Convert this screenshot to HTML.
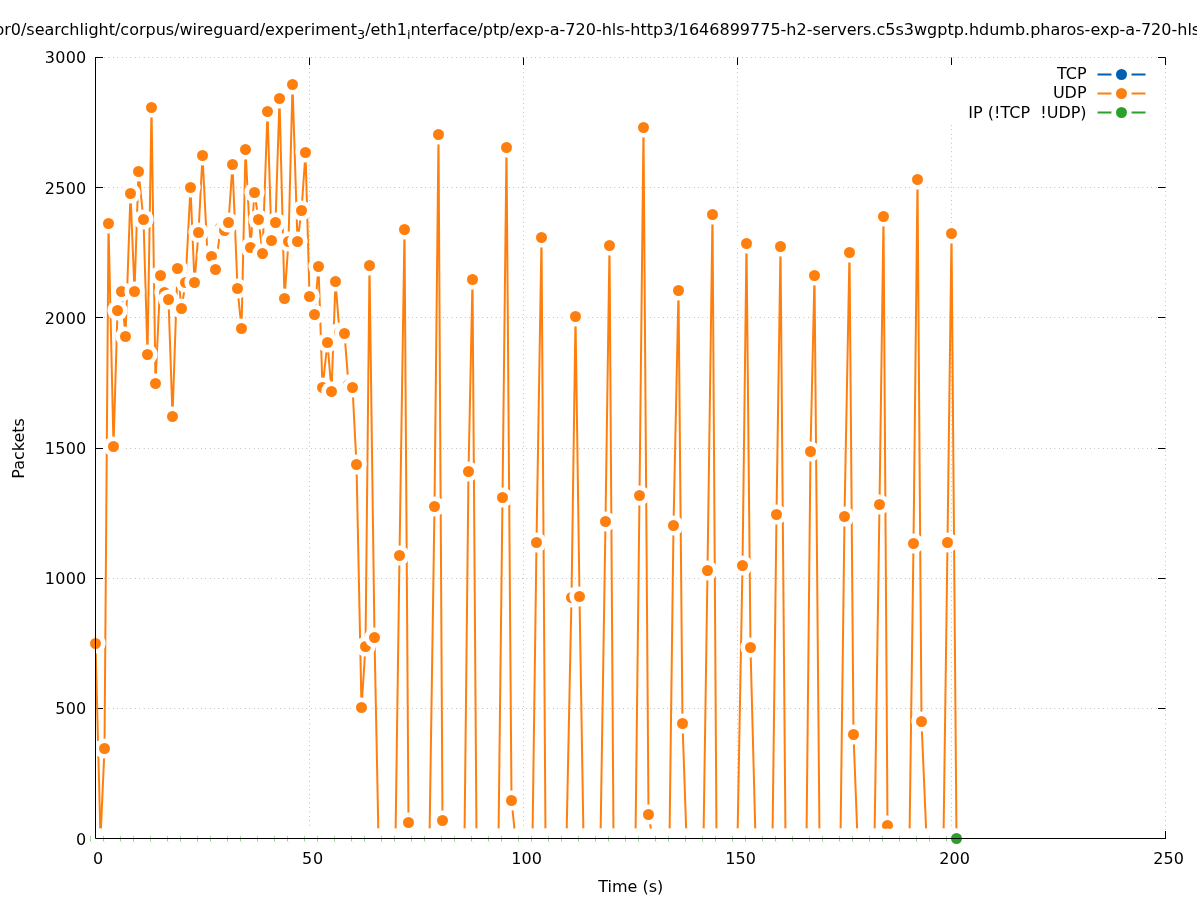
<!DOCTYPE html>
<html lang="en"><head><meta charset="utf-8"><title>Packets over time</title>
<style>html,body{margin:0;padding:0;background:#fff;overflow:hidden}svg{display:block}text{font-family:"DejaVu Sans","Liberation Sans",sans-serif;font-size:16px;fill:#000}</style></head><body>
<svg width="1197" height="900" viewBox="0 0 1197 900">
<rect width="1197" height="900" fill="#fff"/>
<g stroke="#000" stroke-width="0.6" stroke-dasharray="0.4 4" fill="none">
<path d="M95.5 838.5H1165.5"/>
<path d="M95.5 708.5H1165.5"/>
<path d="M95.5 578.5H1165.5"/>
<path d="M95.5 448.5H1165.5"/>
<path d="M95.5 317.5H1165.5"/>
<path d="M95.5 187.5H1165.5"/>
<path d="M95.5 57.5H1165.5"/>
<path d="M309.5 838.5V57.5"/>
<path d="M523.5 838.5V57.5"/>
<path d="M737.5 838.5V57.5"/>
<path d="M951.5 838.5V57.5"/>
<path d="M1165.5 838.5V57.5"/>
</g>
<rect x="945" y="60" width="210" height="64.3" fill="#fff"/>
<g stroke="#000" stroke-width="1" fill="none" id="tics">
<path d="M95.5 838.5h7.5M1165.5 838.5h-7.5"/>
<path d="M95.5 708.5h7.5M1165.5 708.5h-7.5"/>
<path d="M95.5 578.5h7.5M1165.5 578.5h-7.5"/>
<path d="M95.5 448.5h7.5M1165.5 448.5h-7.5"/>
<path d="M95.5 317.5h7.5M1165.5 317.5h-7.5"/>
<path d="M95.5 187.5h7.5M1165.5 187.5h-7.5"/>
<path d="M95.5 57.5h7.5M1165.5 57.5h-7.5"/>
<path d="M95.5 838.5v-7.5M95.5 57.5v7.5"/>
<path d="M309.5 838.5v-7.5M309.5 57.5v7.5"/>
<path d="M523.5 838.5v-7.5M523.5 57.5v7.5"/>
<path d="M737.5 838.5v-7.5M737.5 57.5v7.5"/>
<path d="M951.5 838.5v-7.5M951.5 57.5v7.5"/>
<path d="M1165.5 838.5v-7.5M1165.5 57.5v7.5"/>
</g>
<text x="-5.6" y="34.6" id="title">or0/searchlight/corpus/wireguard/experiment<tspan dy="4.8" font-size="12.8px">3</tspan><tspan dy="-4.8">/eth1</tspan><tspan dy="4.8" font-size="12.8px">i</tspan><tspan dy="-4.8">nterface/ptp/exp-a-720-hls-http3/1646899775-h2-servers.c5s3wgptp.hdumb.pharos-exp-a-720-hls</tspan></text>
<clipPath id="pc"><rect x="95.5" y="57" width="1070.5" height="782"/></clipPath>
<polyline clip-path="url(#pc)" points="95.5,643.5 100.5,838.5 104.5,748.5 108.5,223.5 113.5,446.5 117.5,310.5 121.5,291.5 125.5,336.5 130.5,193.5 134.5,291.5 138.5,171.5 143.5,219.5 147.5,354.5 151.5,107.5 155.5,383.5 160.5,275.5 164.5,292.5 168.5,299.5 172.5,416.5 177.5,268.5 181.5,308.5 185.5,282.5 190.5,187.5 194.5,282.5 198.5,232.5 202.5,155.5 207.5,255.5 211.5,256.5 215.5,269.5 220.5,227.5 224.5,230.5 228.5,222.5 232.5,164.5 237.5,288.5 241.5,328.5 245.5,149.5 250.5,247.5 254.5,192.5 258.5,219.5 262.5,253.5 267.5,111.5 271.5,240.5 275.5,222.5 279.5,98.5 284.5,298.5 288.5,241.5 292.5,84.5 297.5,241.5 301.5,210.5 305.5,152.5 309.5,296.5 314.5,314.5 318.5,266.5 322.5,387.5 327.5,342.5 331.5,391.5 335.5,281.5 339.5,332.5 344.5,333.5 348.5,384.5 352.5,387.5 356.5,464.5 361.5,707.5 365.5,646.5 369.5,265.5 374.5,637.5 378.5,838.5 382.5,838.5 386.5,838.5 391.5,838.5 395.5,838.5 399.5,555.5 404.5,229.5 408.5,822.5 412.5,838.5 416.5,838.5 421.5,838.5 425.5,838.5 429.5,838.5 434.5,506.5 438.5,134.5 442.5,820.5 446.5,838.5 451.5,838.5 455.5,838.5 459.5,838.5 464.5,838.5 468.5,471.5 472.5,279.5 476.5,838.5 481.5,838.5 485.5,838.5 489.5,838.5 493.5,838.5 498.5,838.5 502.5,497.5 506.5,147.5 511.5,800.5 515.5,838.5 519.5,838.5 523.5,838.5 528.5,838.5 532.5,838.5 536.5,542.5 541.5,237.5 545.5,838.5 549.5,838.5 553.5,838.5 558.5,838.5 562.5,838.5 566.5,838.5 571.5,597.5 575.5,316.5 579.5,596.5 583.5,838.5 588.5,838.5 592.5,838.5 596.5,838.5 600.5,838.5 605.5,521.5 609.5,245.5 613.5,838.5 618.5,838.5 622.5,838.5 626.5,838.5 630.5,838.5 635.5,838.5 639.5,495.5 643.5,127.5 648.5,814.5 652.5,838.5 656.5,838.5 660.5,838.5 665.5,838.5 669.5,838.5 673.5,525.5 678.5,290.5 682.5,723.5 686.5,838.5 690.5,838.5 695.5,838.5 699.5,838.5 703.5,838.5 707.5,570.5 712.5,214.5 716.5,838.5 720.5,838.5 725.5,838.5 729.5,838.5 733.5,838.5 737.5,838.5 742.5,565.5 746.5,243.5 750.5,647.5 755.5,838.5 759.5,838.5 763.5,838.5 767.5,838.5 772.5,838.5 776.5,514.5 780.5,246.5 785.5,838.5 789.5,838.5 793.5,838.5 797.5,838.5 802.5,838.5 806.5,838.5 810.5,451.5 814.5,275.5 819.5,838.5 823.5,838.5 827.5,838.5 832.5,838.5 836.5,838.5 840.5,838.5 844.5,516.5 849.5,252.5 853.5,734.5 857.5,838.5 862.5,838.5 866.5,838.5 870.5,838.5 874.5,838.5 879.5,504.5 883.5,216.5 887.5,825.5 892.5,838.5 896.5,838.5 900.5,838.5 904.5,838.5 909.5,838.5 913.5,543.5 917.5,179.5 921.5,721.5 926.5,838.5 930.5,838.5 934.5,838.5 939.5,838.5 943.5,838.5 947.5,542.5 951.5,233.5 956.5,838.5" fill="none" stroke="#ff7f0e" stroke-width="2.0" stroke-linejoin="round" stroke-linecap="butt"/>
<g id="udp">
<circle cx="95.50" cy="643.50" r="10.1" fill="#fff"/><circle cx="95.50" cy="643.50" r="5.5" fill="#ff7f0e"/>
<circle cx="100.50" cy="838.50" r="10.1" fill="#fff"/><circle cx="100.50" cy="838.50" r="5.5" fill="#ff7f0e"/>
<circle cx="104.50" cy="748.50" r="10.1" fill="#fff"/><circle cx="104.50" cy="748.50" r="5.5" fill="#ff7f0e"/>
<circle cx="108.50" cy="223.50" r="10.1" fill="#fff"/><circle cx="108.50" cy="223.50" r="5.5" fill="#ff7f0e"/>
<circle cx="113.50" cy="446.50" r="10.1" fill="#fff"/><circle cx="113.50" cy="446.50" r="5.5" fill="#ff7f0e"/>
<circle cx="117.50" cy="310.50" r="10.1" fill="#fff"/><circle cx="117.50" cy="310.50" r="5.5" fill="#ff7f0e"/>
<circle cx="121.50" cy="291.50" r="10.1" fill="#fff"/><circle cx="121.50" cy="291.50" r="5.5" fill="#ff7f0e"/>
<circle cx="125.50" cy="336.50" r="10.1" fill="#fff"/><circle cx="125.50" cy="336.50" r="5.5" fill="#ff7f0e"/>
<circle cx="130.50" cy="193.50" r="10.1" fill="#fff"/><circle cx="130.50" cy="193.50" r="5.5" fill="#ff7f0e"/>
<circle cx="134.50" cy="291.50" r="10.1" fill="#fff"/><circle cx="134.50" cy="291.50" r="5.5" fill="#ff7f0e"/>
<circle cx="138.50" cy="171.50" r="10.1" fill="#fff"/><circle cx="138.50" cy="171.50" r="5.5" fill="#ff7f0e"/>
<circle cx="143.50" cy="219.50" r="10.1" fill="#fff"/><circle cx="143.50" cy="219.50" r="5.5" fill="#ff7f0e"/>
<circle cx="147.50" cy="354.50" r="10.1" fill="#fff"/><circle cx="147.50" cy="354.50" r="5.5" fill="#ff7f0e"/>
<circle cx="151.50" cy="107.50" r="10.1" fill="#fff"/><circle cx="151.50" cy="107.50" r="5.5" fill="#ff7f0e"/>
<circle cx="155.50" cy="383.50" r="10.1" fill="#fff"/><circle cx="155.50" cy="383.50" r="5.5" fill="#ff7f0e"/>
<circle cx="160.50" cy="275.50" r="10.1" fill="#fff"/><circle cx="160.50" cy="275.50" r="5.5" fill="#ff7f0e"/>
<circle cx="164.50" cy="292.50" r="10.1" fill="#fff"/><circle cx="164.50" cy="292.50" r="5.5" fill="#ff7f0e"/>
<circle cx="168.50" cy="299.50" r="10.1" fill="#fff"/><circle cx="168.50" cy="299.50" r="5.5" fill="#ff7f0e"/>
<circle cx="172.50" cy="416.50" r="10.1" fill="#fff"/><circle cx="172.50" cy="416.50" r="5.5" fill="#ff7f0e"/>
<circle cx="177.50" cy="268.50" r="10.1" fill="#fff"/><circle cx="177.50" cy="268.50" r="5.5" fill="#ff7f0e"/>
<circle cx="181.50" cy="308.50" r="10.1" fill="#fff"/><circle cx="181.50" cy="308.50" r="5.5" fill="#ff7f0e"/>
<circle cx="185.50" cy="282.50" r="10.1" fill="#fff"/><circle cx="185.50" cy="282.50" r="5.5" fill="#ff7f0e"/>
<circle cx="190.50" cy="187.50" r="10.1" fill="#fff"/><circle cx="190.50" cy="187.50" r="5.5" fill="#ff7f0e"/>
<circle cx="194.50" cy="282.50" r="10.1" fill="#fff"/><circle cx="194.50" cy="282.50" r="5.5" fill="#ff7f0e"/>
<circle cx="198.50" cy="232.50" r="10.1" fill="#fff"/><circle cx="198.50" cy="232.50" r="5.5" fill="#ff7f0e"/>
<circle cx="202.50" cy="155.50" r="10.1" fill="#fff"/><circle cx="202.50" cy="155.50" r="5.5" fill="#ff7f0e"/>
<circle cx="207.50" cy="255.50" r="10.1" fill="#fff"/><circle cx="207.50" cy="255.50" r="5.5" fill="#ff7f0e"/>
<circle cx="211.50" cy="256.50" r="10.1" fill="#fff"/><circle cx="211.50" cy="256.50" r="5.5" fill="#ff7f0e"/>
<circle cx="215.50" cy="269.50" r="10.1" fill="#fff"/><circle cx="215.50" cy="269.50" r="5.5" fill="#ff7f0e"/>
<circle cx="220.50" cy="227.50" r="10.1" fill="#fff"/><circle cx="220.50" cy="227.50" r="5.5" fill="#ff7f0e"/>
<circle cx="224.50" cy="230.50" r="10.1" fill="#fff"/><circle cx="224.50" cy="230.50" r="5.5" fill="#ff7f0e"/>
<circle cx="228.50" cy="222.50" r="10.1" fill="#fff"/><circle cx="228.50" cy="222.50" r="5.5" fill="#ff7f0e"/>
<circle cx="232.50" cy="164.50" r="10.1" fill="#fff"/><circle cx="232.50" cy="164.50" r="5.5" fill="#ff7f0e"/>
<circle cx="237.50" cy="288.50" r="10.1" fill="#fff"/><circle cx="237.50" cy="288.50" r="5.5" fill="#ff7f0e"/>
<circle cx="241.50" cy="328.50" r="10.1" fill="#fff"/><circle cx="241.50" cy="328.50" r="5.5" fill="#ff7f0e"/>
<circle cx="245.50" cy="149.50" r="10.1" fill="#fff"/><circle cx="245.50" cy="149.50" r="5.5" fill="#ff7f0e"/>
<circle cx="250.50" cy="247.50" r="10.1" fill="#fff"/><circle cx="250.50" cy="247.50" r="5.5" fill="#ff7f0e"/>
<circle cx="254.50" cy="192.50" r="10.1" fill="#fff"/><circle cx="254.50" cy="192.50" r="5.5" fill="#ff7f0e"/>
<circle cx="258.50" cy="219.50" r="10.1" fill="#fff"/><circle cx="258.50" cy="219.50" r="5.5" fill="#ff7f0e"/>
<circle cx="262.50" cy="253.50" r="10.1" fill="#fff"/><circle cx="262.50" cy="253.50" r="5.5" fill="#ff7f0e"/>
<circle cx="267.50" cy="111.50" r="10.1" fill="#fff"/><circle cx="267.50" cy="111.50" r="5.5" fill="#ff7f0e"/>
<circle cx="271.50" cy="240.50" r="10.1" fill="#fff"/><circle cx="271.50" cy="240.50" r="5.5" fill="#ff7f0e"/>
<circle cx="275.50" cy="222.50" r="10.1" fill="#fff"/><circle cx="275.50" cy="222.50" r="5.5" fill="#ff7f0e"/>
<circle cx="279.50" cy="98.50" r="10.1" fill="#fff"/><circle cx="279.50" cy="98.50" r="5.5" fill="#ff7f0e"/>
<circle cx="284.50" cy="298.50" r="10.1" fill="#fff"/><circle cx="284.50" cy="298.50" r="5.5" fill="#ff7f0e"/>
<circle cx="288.50" cy="241.50" r="10.1" fill="#fff"/><circle cx="288.50" cy="241.50" r="5.5" fill="#ff7f0e"/>
<circle cx="292.50" cy="84.50" r="10.1" fill="#fff"/><circle cx="292.50" cy="84.50" r="5.5" fill="#ff7f0e"/>
<circle cx="297.50" cy="241.50" r="10.1" fill="#fff"/><circle cx="297.50" cy="241.50" r="5.5" fill="#ff7f0e"/>
<circle cx="301.50" cy="210.50" r="10.1" fill="#fff"/><circle cx="301.50" cy="210.50" r="5.5" fill="#ff7f0e"/>
<circle cx="305.50" cy="152.50" r="10.1" fill="#fff"/><circle cx="305.50" cy="152.50" r="5.5" fill="#ff7f0e"/>
<circle cx="309.50" cy="296.50" r="10.1" fill="#fff"/><circle cx="309.50" cy="296.50" r="5.5" fill="#ff7f0e"/>
<circle cx="314.50" cy="314.50" r="10.1" fill="#fff"/><circle cx="314.50" cy="314.50" r="5.5" fill="#ff7f0e"/>
<circle cx="318.50" cy="266.50" r="10.1" fill="#fff"/><circle cx="318.50" cy="266.50" r="5.5" fill="#ff7f0e"/>
<circle cx="322.50" cy="387.50" r="10.1" fill="#fff"/><circle cx="322.50" cy="387.50" r="5.5" fill="#ff7f0e"/>
<circle cx="327.50" cy="342.50" r="10.1" fill="#fff"/><circle cx="327.50" cy="342.50" r="5.5" fill="#ff7f0e"/>
<circle cx="331.50" cy="391.50" r="10.1" fill="#fff"/><circle cx="331.50" cy="391.50" r="5.5" fill="#ff7f0e"/>
<circle cx="335.50" cy="281.50" r="10.1" fill="#fff"/><circle cx="335.50" cy="281.50" r="5.5" fill="#ff7f0e"/>
<circle cx="339.50" cy="332.50" r="10.1" fill="#fff"/><circle cx="339.50" cy="332.50" r="5.5" fill="#ff7f0e"/>
<circle cx="344.50" cy="333.50" r="10.1" fill="#fff"/><circle cx="344.50" cy="333.50" r="5.5" fill="#ff7f0e"/>
<circle cx="348.50" cy="384.50" r="10.1" fill="#fff"/><circle cx="348.50" cy="384.50" r="5.5" fill="#ff7f0e"/>
<circle cx="352.50" cy="387.50" r="10.1" fill="#fff"/><circle cx="352.50" cy="387.50" r="5.5" fill="#ff7f0e"/>
<circle cx="356.50" cy="464.50" r="10.1" fill="#fff"/><circle cx="356.50" cy="464.50" r="5.5" fill="#ff7f0e"/>
<circle cx="361.50" cy="707.50" r="10.1" fill="#fff"/><circle cx="361.50" cy="707.50" r="5.5" fill="#ff7f0e"/>
<circle cx="365.50" cy="646.50" r="10.1" fill="#fff"/><circle cx="365.50" cy="646.50" r="5.5" fill="#ff7f0e"/>
<circle cx="369.50" cy="265.50" r="10.1" fill="#fff"/><circle cx="369.50" cy="265.50" r="5.5" fill="#ff7f0e"/>
<circle cx="374.50" cy="637.50" r="10.1" fill="#fff"/><circle cx="374.50" cy="637.50" r="5.5" fill="#ff7f0e"/>
<circle cx="378.50" cy="838.50" r="10.1" fill="#fff"/><circle cx="378.50" cy="838.50" r="5.5" fill="#ff7f0e"/>
<circle cx="382.50" cy="838.50" r="10.1" fill="#fff"/><circle cx="382.50" cy="838.50" r="5.5" fill="#ff7f0e"/>
<circle cx="386.50" cy="838.50" r="10.1" fill="#fff"/><circle cx="386.50" cy="838.50" r="5.5" fill="#ff7f0e"/>
<circle cx="391.50" cy="838.50" r="10.1" fill="#fff"/><circle cx="391.50" cy="838.50" r="5.5" fill="#ff7f0e"/>
<circle cx="395.50" cy="838.50" r="10.1" fill="#fff"/><circle cx="395.50" cy="838.50" r="5.5" fill="#ff7f0e"/>
<circle cx="399.50" cy="555.50" r="10.1" fill="#fff"/><circle cx="399.50" cy="555.50" r="5.5" fill="#ff7f0e"/>
<circle cx="404.50" cy="229.50" r="10.1" fill="#fff"/><circle cx="404.50" cy="229.50" r="5.5" fill="#ff7f0e"/>
<circle cx="408.50" cy="822.50" r="10.1" fill="#fff"/><circle cx="408.50" cy="822.50" r="5.5" fill="#ff7f0e"/>
<circle cx="412.50" cy="838.50" r="10.1" fill="#fff"/><circle cx="412.50" cy="838.50" r="5.5" fill="#ff7f0e"/>
<circle cx="416.50" cy="838.50" r="10.1" fill="#fff"/><circle cx="416.50" cy="838.50" r="5.5" fill="#ff7f0e"/>
<circle cx="421.50" cy="838.50" r="10.1" fill="#fff"/><circle cx="421.50" cy="838.50" r="5.5" fill="#ff7f0e"/>
<circle cx="425.50" cy="838.50" r="10.1" fill="#fff"/><circle cx="425.50" cy="838.50" r="5.5" fill="#ff7f0e"/>
<circle cx="429.50" cy="838.50" r="10.1" fill="#fff"/><circle cx="429.50" cy="838.50" r="5.5" fill="#ff7f0e"/>
<circle cx="434.50" cy="506.50" r="10.1" fill="#fff"/><circle cx="434.50" cy="506.50" r="5.5" fill="#ff7f0e"/>
<circle cx="438.50" cy="134.50" r="10.1" fill="#fff"/><circle cx="438.50" cy="134.50" r="5.5" fill="#ff7f0e"/>
<circle cx="442.50" cy="820.50" r="10.1" fill="#fff"/><circle cx="442.50" cy="820.50" r="5.5" fill="#ff7f0e"/>
<circle cx="446.50" cy="838.50" r="10.1" fill="#fff"/><circle cx="446.50" cy="838.50" r="5.5" fill="#ff7f0e"/>
<circle cx="451.50" cy="838.50" r="10.1" fill="#fff"/><circle cx="451.50" cy="838.50" r="5.5" fill="#ff7f0e"/>
<circle cx="455.50" cy="838.50" r="10.1" fill="#fff"/><circle cx="455.50" cy="838.50" r="5.5" fill="#ff7f0e"/>
<circle cx="459.50" cy="838.50" r="10.1" fill="#fff"/><circle cx="459.50" cy="838.50" r="5.5" fill="#ff7f0e"/>
<circle cx="464.50" cy="838.50" r="10.1" fill="#fff"/><circle cx="464.50" cy="838.50" r="5.5" fill="#ff7f0e"/>
<circle cx="468.50" cy="471.50" r="10.1" fill="#fff"/><circle cx="468.50" cy="471.50" r="5.5" fill="#ff7f0e"/>
<circle cx="472.50" cy="279.50" r="10.1" fill="#fff"/><circle cx="472.50" cy="279.50" r="5.5" fill="#ff7f0e"/>
<circle cx="476.50" cy="838.50" r="10.1" fill="#fff"/><circle cx="476.50" cy="838.50" r="5.5" fill="#ff7f0e"/>
<circle cx="481.50" cy="838.50" r="10.1" fill="#fff"/><circle cx="481.50" cy="838.50" r="5.5" fill="#ff7f0e"/>
<circle cx="485.50" cy="838.50" r="10.1" fill="#fff"/><circle cx="485.50" cy="838.50" r="5.5" fill="#ff7f0e"/>
<circle cx="489.50" cy="838.50" r="10.1" fill="#fff"/><circle cx="489.50" cy="838.50" r="5.5" fill="#ff7f0e"/>
<circle cx="493.50" cy="838.50" r="10.1" fill="#fff"/><circle cx="493.50" cy="838.50" r="5.5" fill="#ff7f0e"/>
<circle cx="498.50" cy="838.50" r="10.1" fill="#fff"/><circle cx="498.50" cy="838.50" r="5.5" fill="#ff7f0e"/>
<circle cx="502.50" cy="497.50" r="10.1" fill="#fff"/><circle cx="502.50" cy="497.50" r="5.5" fill="#ff7f0e"/>
<circle cx="506.50" cy="147.50" r="10.1" fill="#fff"/><circle cx="506.50" cy="147.50" r="5.5" fill="#ff7f0e"/>
<circle cx="511.50" cy="800.50" r="10.1" fill="#fff"/><circle cx="511.50" cy="800.50" r="5.5" fill="#ff7f0e"/>
<circle cx="515.50" cy="838.50" r="10.1" fill="#fff"/><circle cx="515.50" cy="838.50" r="5.5" fill="#ff7f0e"/>
<circle cx="519.50" cy="838.50" r="10.1" fill="#fff"/><circle cx="519.50" cy="838.50" r="5.5" fill="#ff7f0e"/>
<circle cx="523.50" cy="838.50" r="10.1" fill="#fff"/><circle cx="523.50" cy="838.50" r="5.5" fill="#ff7f0e"/>
<circle cx="528.50" cy="838.50" r="10.1" fill="#fff"/><circle cx="528.50" cy="838.50" r="5.5" fill="#ff7f0e"/>
<circle cx="532.50" cy="838.50" r="10.1" fill="#fff"/><circle cx="532.50" cy="838.50" r="5.5" fill="#ff7f0e"/>
<circle cx="536.50" cy="542.50" r="10.1" fill="#fff"/><circle cx="536.50" cy="542.50" r="5.5" fill="#ff7f0e"/>
<circle cx="541.50" cy="237.50" r="10.1" fill="#fff"/><circle cx="541.50" cy="237.50" r="5.5" fill="#ff7f0e"/>
<circle cx="545.50" cy="838.50" r="10.1" fill="#fff"/><circle cx="545.50" cy="838.50" r="5.5" fill="#ff7f0e"/>
<circle cx="549.50" cy="838.50" r="10.1" fill="#fff"/><circle cx="549.50" cy="838.50" r="5.5" fill="#ff7f0e"/>
<circle cx="553.50" cy="838.50" r="10.1" fill="#fff"/><circle cx="553.50" cy="838.50" r="5.5" fill="#ff7f0e"/>
<circle cx="558.50" cy="838.50" r="10.1" fill="#fff"/><circle cx="558.50" cy="838.50" r="5.5" fill="#ff7f0e"/>
<circle cx="562.50" cy="838.50" r="10.1" fill="#fff"/><circle cx="562.50" cy="838.50" r="5.5" fill="#ff7f0e"/>
<circle cx="566.50" cy="838.50" r="10.1" fill="#fff"/><circle cx="566.50" cy="838.50" r="5.5" fill="#ff7f0e"/>
<circle cx="571.50" cy="597.50" r="10.1" fill="#fff"/><circle cx="571.50" cy="597.50" r="5.5" fill="#ff7f0e"/>
<circle cx="575.50" cy="316.50" r="10.1" fill="#fff"/><circle cx="575.50" cy="316.50" r="5.5" fill="#ff7f0e"/>
<circle cx="579.50" cy="596.50" r="10.1" fill="#fff"/><circle cx="579.50" cy="596.50" r="5.5" fill="#ff7f0e"/>
<circle cx="583.50" cy="838.50" r="10.1" fill="#fff"/><circle cx="583.50" cy="838.50" r="5.5" fill="#ff7f0e"/>
<circle cx="588.50" cy="838.50" r="10.1" fill="#fff"/><circle cx="588.50" cy="838.50" r="5.5" fill="#ff7f0e"/>
<circle cx="592.50" cy="838.50" r="10.1" fill="#fff"/><circle cx="592.50" cy="838.50" r="5.5" fill="#ff7f0e"/>
<circle cx="596.50" cy="838.50" r="10.1" fill="#fff"/><circle cx="596.50" cy="838.50" r="5.5" fill="#ff7f0e"/>
<circle cx="600.50" cy="838.50" r="10.1" fill="#fff"/><circle cx="600.50" cy="838.50" r="5.5" fill="#ff7f0e"/>
<circle cx="605.50" cy="521.50" r="10.1" fill="#fff"/><circle cx="605.50" cy="521.50" r="5.5" fill="#ff7f0e"/>
<circle cx="609.50" cy="245.50" r="10.1" fill="#fff"/><circle cx="609.50" cy="245.50" r="5.5" fill="#ff7f0e"/>
<circle cx="613.50" cy="838.50" r="10.1" fill="#fff"/><circle cx="613.50" cy="838.50" r="5.5" fill="#ff7f0e"/>
<circle cx="618.50" cy="838.50" r="10.1" fill="#fff"/><circle cx="618.50" cy="838.50" r="5.5" fill="#ff7f0e"/>
<circle cx="622.50" cy="838.50" r="10.1" fill="#fff"/><circle cx="622.50" cy="838.50" r="5.5" fill="#ff7f0e"/>
<circle cx="626.50" cy="838.50" r="10.1" fill="#fff"/><circle cx="626.50" cy="838.50" r="5.5" fill="#ff7f0e"/>
<circle cx="630.50" cy="838.50" r="10.1" fill="#fff"/><circle cx="630.50" cy="838.50" r="5.5" fill="#ff7f0e"/>
<circle cx="635.50" cy="838.50" r="10.1" fill="#fff"/><circle cx="635.50" cy="838.50" r="5.5" fill="#ff7f0e"/>
<circle cx="639.50" cy="495.50" r="10.1" fill="#fff"/><circle cx="639.50" cy="495.50" r="5.5" fill="#ff7f0e"/>
<circle cx="643.50" cy="127.50" r="10.1" fill="#fff"/><circle cx="643.50" cy="127.50" r="5.5" fill="#ff7f0e"/>
<circle cx="648.50" cy="814.50" r="10.1" fill="#fff"/><circle cx="648.50" cy="814.50" r="5.5" fill="#ff7f0e"/>
<circle cx="652.50" cy="838.50" r="10.1" fill="#fff"/><circle cx="652.50" cy="838.50" r="5.5" fill="#ff7f0e"/>
<circle cx="656.50" cy="838.50" r="10.1" fill="#fff"/><circle cx="656.50" cy="838.50" r="5.5" fill="#ff7f0e"/>
<circle cx="660.50" cy="838.50" r="10.1" fill="#fff"/><circle cx="660.50" cy="838.50" r="5.5" fill="#ff7f0e"/>
<circle cx="665.50" cy="838.50" r="10.1" fill="#fff"/><circle cx="665.50" cy="838.50" r="5.5" fill="#ff7f0e"/>
<circle cx="669.50" cy="838.50" r="10.1" fill="#fff"/><circle cx="669.50" cy="838.50" r="5.5" fill="#ff7f0e"/>
<circle cx="673.50" cy="525.50" r="10.1" fill="#fff"/><circle cx="673.50" cy="525.50" r="5.5" fill="#ff7f0e"/>
<circle cx="678.50" cy="290.50" r="10.1" fill="#fff"/><circle cx="678.50" cy="290.50" r="5.5" fill="#ff7f0e"/>
<circle cx="682.50" cy="723.50" r="10.1" fill="#fff"/><circle cx="682.50" cy="723.50" r="5.5" fill="#ff7f0e"/>
<circle cx="686.50" cy="838.50" r="10.1" fill="#fff"/><circle cx="686.50" cy="838.50" r="5.5" fill="#ff7f0e"/>
<circle cx="690.50" cy="838.50" r="10.1" fill="#fff"/><circle cx="690.50" cy="838.50" r="5.5" fill="#ff7f0e"/>
<circle cx="695.50" cy="838.50" r="10.1" fill="#fff"/><circle cx="695.50" cy="838.50" r="5.5" fill="#ff7f0e"/>
<circle cx="699.50" cy="838.50" r="10.1" fill="#fff"/><circle cx="699.50" cy="838.50" r="5.5" fill="#ff7f0e"/>
<circle cx="703.50" cy="838.50" r="10.1" fill="#fff"/><circle cx="703.50" cy="838.50" r="5.5" fill="#ff7f0e"/>
<circle cx="707.50" cy="570.50" r="10.1" fill="#fff"/><circle cx="707.50" cy="570.50" r="5.5" fill="#ff7f0e"/>
<circle cx="712.50" cy="214.50" r="10.1" fill="#fff"/><circle cx="712.50" cy="214.50" r="5.5" fill="#ff7f0e"/>
<circle cx="716.50" cy="838.50" r="10.1" fill="#fff"/><circle cx="716.50" cy="838.50" r="5.5" fill="#ff7f0e"/>
<circle cx="720.50" cy="838.50" r="10.1" fill="#fff"/><circle cx="720.50" cy="838.50" r="5.5" fill="#ff7f0e"/>
<circle cx="725.50" cy="838.50" r="10.1" fill="#fff"/><circle cx="725.50" cy="838.50" r="5.5" fill="#ff7f0e"/>
<circle cx="729.50" cy="838.50" r="10.1" fill="#fff"/><circle cx="729.50" cy="838.50" r="5.5" fill="#ff7f0e"/>
<circle cx="733.50" cy="838.50" r="10.1" fill="#fff"/><circle cx="733.50" cy="838.50" r="5.5" fill="#ff7f0e"/>
<circle cx="737.50" cy="838.50" r="10.1" fill="#fff"/><circle cx="737.50" cy="838.50" r="5.5" fill="#ff7f0e"/>
<circle cx="742.50" cy="565.50" r="10.1" fill="#fff"/><circle cx="742.50" cy="565.50" r="5.5" fill="#ff7f0e"/>
<circle cx="746.50" cy="243.50" r="10.1" fill="#fff"/><circle cx="746.50" cy="243.50" r="5.5" fill="#ff7f0e"/>
<circle cx="750.50" cy="647.50" r="10.1" fill="#fff"/><circle cx="750.50" cy="647.50" r="5.5" fill="#ff7f0e"/>
<circle cx="755.50" cy="838.50" r="10.1" fill="#fff"/><circle cx="755.50" cy="838.50" r="5.5" fill="#ff7f0e"/>
<circle cx="759.50" cy="838.50" r="10.1" fill="#fff"/><circle cx="759.50" cy="838.50" r="5.5" fill="#ff7f0e"/>
<circle cx="763.50" cy="838.50" r="10.1" fill="#fff"/><circle cx="763.50" cy="838.50" r="5.5" fill="#ff7f0e"/>
<circle cx="767.50" cy="838.50" r="10.1" fill="#fff"/><circle cx="767.50" cy="838.50" r="5.5" fill="#ff7f0e"/>
<circle cx="772.50" cy="838.50" r="10.1" fill="#fff"/><circle cx="772.50" cy="838.50" r="5.5" fill="#ff7f0e"/>
<circle cx="776.50" cy="514.50" r="10.1" fill="#fff"/><circle cx="776.50" cy="514.50" r="5.5" fill="#ff7f0e"/>
<circle cx="780.50" cy="246.50" r="10.1" fill="#fff"/><circle cx="780.50" cy="246.50" r="5.5" fill="#ff7f0e"/>
<circle cx="785.50" cy="838.50" r="10.1" fill="#fff"/><circle cx="785.50" cy="838.50" r="5.5" fill="#ff7f0e"/>
<circle cx="789.50" cy="838.50" r="10.1" fill="#fff"/><circle cx="789.50" cy="838.50" r="5.5" fill="#ff7f0e"/>
<circle cx="793.50" cy="838.50" r="10.1" fill="#fff"/><circle cx="793.50" cy="838.50" r="5.5" fill="#ff7f0e"/>
<circle cx="797.50" cy="838.50" r="10.1" fill="#fff"/><circle cx="797.50" cy="838.50" r="5.5" fill="#ff7f0e"/>
<circle cx="802.50" cy="838.50" r="10.1" fill="#fff"/><circle cx="802.50" cy="838.50" r="5.5" fill="#ff7f0e"/>
<circle cx="806.50" cy="838.50" r="10.1" fill="#fff"/><circle cx="806.50" cy="838.50" r="5.5" fill="#ff7f0e"/>
<circle cx="810.50" cy="451.50" r="10.1" fill="#fff"/><circle cx="810.50" cy="451.50" r="5.5" fill="#ff7f0e"/>
<circle cx="814.50" cy="275.50" r="10.1" fill="#fff"/><circle cx="814.50" cy="275.50" r="5.5" fill="#ff7f0e"/>
<circle cx="819.50" cy="838.50" r="10.1" fill="#fff"/><circle cx="819.50" cy="838.50" r="5.5" fill="#ff7f0e"/>
<circle cx="823.50" cy="838.50" r="10.1" fill="#fff"/><circle cx="823.50" cy="838.50" r="5.5" fill="#ff7f0e"/>
<circle cx="827.50" cy="838.50" r="10.1" fill="#fff"/><circle cx="827.50" cy="838.50" r="5.5" fill="#ff7f0e"/>
<circle cx="832.50" cy="838.50" r="10.1" fill="#fff"/><circle cx="832.50" cy="838.50" r="5.5" fill="#ff7f0e"/>
<circle cx="836.50" cy="838.50" r="10.1" fill="#fff"/><circle cx="836.50" cy="838.50" r="5.5" fill="#ff7f0e"/>
<circle cx="840.50" cy="838.50" r="10.1" fill="#fff"/><circle cx="840.50" cy="838.50" r="5.5" fill="#ff7f0e"/>
<circle cx="844.50" cy="516.50" r="10.1" fill="#fff"/><circle cx="844.50" cy="516.50" r="5.5" fill="#ff7f0e"/>
<circle cx="849.50" cy="252.50" r="10.1" fill="#fff"/><circle cx="849.50" cy="252.50" r="5.5" fill="#ff7f0e"/>
<circle cx="853.50" cy="734.50" r="10.1" fill="#fff"/><circle cx="853.50" cy="734.50" r="5.5" fill="#ff7f0e"/>
<circle cx="857.50" cy="838.50" r="10.1" fill="#fff"/><circle cx="857.50" cy="838.50" r="5.5" fill="#ff7f0e"/>
<circle cx="862.50" cy="838.50" r="10.1" fill="#fff"/><circle cx="862.50" cy="838.50" r="5.5" fill="#ff7f0e"/>
<circle cx="866.50" cy="838.50" r="10.1" fill="#fff"/><circle cx="866.50" cy="838.50" r="5.5" fill="#ff7f0e"/>
<circle cx="870.50" cy="838.50" r="10.1" fill="#fff"/><circle cx="870.50" cy="838.50" r="5.5" fill="#ff7f0e"/>
<circle cx="874.50" cy="838.50" r="10.1" fill="#fff"/><circle cx="874.50" cy="838.50" r="5.5" fill="#ff7f0e"/>
<circle cx="879.50" cy="504.50" r="10.1" fill="#fff"/><circle cx="879.50" cy="504.50" r="5.5" fill="#ff7f0e"/>
<circle cx="883.50" cy="216.50" r="10.1" fill="#fff"/><circle cx="883.50" cy="216.50" r="5.5" fill="#ff7f0e"/>
<circle cx="887.50" cy="825.50" r="10.1" fill="#fff"/><circle cx="887.50" cy="825.50" r="5.5" fill="#ff7f0e"/>
<circle cx="892.50" cy="838.50" r="10.1" fill="#fff"/><circle cx="892.50" cy="838.50" r="5.5" fill="#ff7f0e"/>
<circle cx="896.50" cy="838.50" r="10.1" fill="#fff"/><circle cx="896.50" cy="838.50" r="5.5" fill="#ff7f0e"/>
<circle cx="900.50" cy="838.50" r="10.1" fill="#fff"/><circle cx="900.50" cy="838.50" r="5.5" fill="#ff7f0e"/>
<circle cx="904.50" cy="838.50" r="10.1" fill="#fff"/><circle cx="904.50" cy="838.50" r="5.5" fill="#ff7f0e"/>
<circle cx="909.50" cy="838.50" r="10.1" fill="#fff"/><circle cx="909.50" cy="838.50" r="5.5" fill="#ff7f0e"/>
<circle cx="913.50" cy="543.50" r="10.1" fill="#fff"/><circle cx="913.50" cy="543.50" r="5.5" fill="#ff7f0e"/>
<circle cx="917.50" cy="179.50" r="10.1" fill="#fff"/><circle cx="917.50" cy="179.50" r="5.5" fill="#ff7f0e"/>
<circle cx="921.50" cy="721.50" r="10.1" fill="#fff"/><circle cx="921.50" cy="721.50" r="5.5" fill="#ff7f0e"/>
<circle cx="926.50" cy="838.50" r="10.1" fill="#fff"/><circle cx="926.50" cy="838.50" r="5.5" fill="#ff7f0e"/>
<circle cx="930.50" cy="838.50" r="10.1" fill="#fff"/><circle cx="930.50" cy="838.50" r="5.5" fill="#ff7f0e"/>
<circle cx="934.50" cy="838.50" r="10.1" fill="#fff"/><circle cx="934.50" cy="838.50" r="5.5" fill="#ff7f0e"/>
<circle cx="939.50" cy="838.50" r="10.1" fill="#fff"/><circle cx="939.50" cy="838.50" r="5.5" fill="#ff7f0e"/>
<circle cx="943.50" cy="838.50" r="10.1" fill="#fff"/><circle cx="943.50" cy="838.50" r="5.5" fill="#ff7f0e"/>
<circle cx="947.50" cy="542.50" r="10.1" fill="#fff"/><circle cx="947.50" cy="542.50" r="5.5" fill="#ff7f0e"/>
<circle cx="951.50" cy="233.50" r="10.1" fill="#fff"/><circle cx="951.50" cy="233.50" r="5.5" fill="#ff7f0e"/>
<circle cx="956.50" cy="838.50" r="10.1" fill="#fff"/><circle cx="956.50" cy="838.50" r="5.5" fill="#ff7f0e"/>
</g>
<g id="ip">
<circle cx="95.50" cy="838.5" r="10.1" fill="#fff"/><circle cx="95.50" cy="838.5" r="5.5" fill="#2ca02c"/>
<circle cx="100.50" cy="838.5" r="10.1" fill="#fff"/><circle cx="100.50" cy="838.5" r="5.5" fill="#2ca02c"/>
<circle cx="104.50" cy="838.5" r="10.1" fill="#fff"/><circle cx="104.50" cy="838.5" r="5.5" fill="#2ca02c"/>
<circle cx="108.50" cy="838.5" r="10.1" fill="#fff"/><circle cx="108.50" cy="838.5" r="5.5" fill="#2ca02c"/>
<circle cx="113.50" cy="838.5" r="10.1" fill="#fff"/><circle cx="113.50" cy="838.5" r="5.5" fill="#2ca02c"/>
<circle cx="117.50" cy="838.5" r="10.1" fill="#fff"/><circle cx="117.50" cy="838.5" r="5.5" fill="#2ca02c"/>
<circle cx="121.50" cy="838.5" r="10.1" fill="#fff"/><circle cx="121.50" cy="838.5" r="5.5" fill="#2ca02c"/>
<circle cx="125.50" cy="838.5" r="10.1" fill="#fff"/><circle cx="125.50" cy="838.5" r="5.5" fill="#2ca02c"/>
<circle cx="130.50" cy="838.5" r="10.1" fill="#fff"/><circle cx="130.50" cy="838.5" r="5.5" fill="#2ca02c"/>
<circle cx="134.50" cy="838.5" r="10.1" fill="#fff"/><circle cx="134.50" cy="838.5" r="5.5" fill="#2ca02c"/>
<circle cx="138.50" cy="838.5" r="10.1" fill="#fff"/><circle cx="138.50" cy="838.5" r="5.5" fill="#2ca02c"/>
<circle cx="143.50" cy="838.5" r="10.1" fill="#fff"/><circle cx="143.50" cy="838.5" r="5.5" fill="#2ca02c"/>
<circle cx="147.50" cy="838.5" r="10.1" fill="#fff"/><circle cx="147.50" cy="838.5" r="5.5" fill="#2ca02c"/>
<circle cx="151.50" cy="838.5" r="10.1" fill="#fff"/><circle cx="151.50" cy="838.5" r="5.5" fill="#2ca02c"/>
<circle cx="155.50" cy="838.5" r="10.1" fill="#fff"/><circle cx="155.50" cy="838.5" r="5.5" fill="#2ca02c"/>
<circle cx="160.50" cy="838.5" r="10.1" fill="#fff"/><circle cx="160.50" cy="838.5" r="5.5" fill="#2ca02c"/>
<circle cx="164.50" cy="838.5" r="10.1" fill="#fff"/><circle cx="164.50" cy="838.5" r="5.5" fill="#2ca02c"/>
<circle cx="168.50" cy="838.5" r="10.1" fill="#fff"/><circle cx="168.50" cy="838.5" r="5.5" fill="#2ca02c"/>
<circle cx="172.50" cy="838.5" r="10.1" fill="#fff"/><circle cx="172.50" cy="838.5" r="5.5" fill="#2ca02c"/>
<circle cx="177.50" cy="838.5" r="10.1" fill="#fff"/><circle cx="177.50" cy="838.5" r="5.5" fill="#2ca02c"/>
<circle cx="181.50" cy="838.5" r="10.1" fill="#fff"/><circle cx="181.50" cy="838.5" r="5.5" fill="#2ca02c"/>
<circle cx="185.50" cy="838.5" r="10.1" fill="#fff"/><circle cx="185.50" cy="838.5" r="5.5" fill="#2ca02c"/>
<circle cx="190.50" cy="838.5" r="10.1" fill="#fff"/><circle cx="190.50" cy="838.5" r="5.5" fill="#2ca02c"/>
<circle cx="194.50" cy="838.5" r="10.1" fill="#fff"/><circle cx="194.50" cy="838.5" r="5.5" fill="#2ca02c"/>
<circle cx="198.50" cy="838.5" r="10.1" fill="#fff"/><circle cx="198.50" cy="838.5" r="5.5" fill="#2ca02c"/>
<circle cx="202.50" cy="838.5" r="10.1" fill="#fff"/><circle cx="202.50" cy="838.5" r="5.5" fill="#2ca02c"/>
<circle cx="207.50" cy="838.5" r="10.1" fill="#fff"/><circle cx="207.50" cy="838.5" r="5.5" fill="#2ca02c"/>
<circle cx="211.50" cy="838.5" r="10.1" fill="#fff"/><circle cx="211.50" cy="838.5" r="5.5" fill="#2ca02c"/>
<circle cx="215.50" cy="838.5" r="10.1" fill="#fff"/><circle cx="215.50" cy="838.5" r="5.5" fill="#2ca02c"/>
<circle cx="220.50" cy="838.5" r="10.1" fill="#fff"/><circle cx="220.50" cy="838.5" r="5.5" fill="#2ca02c"/>
<circle cx="224.50" cy="838.5" r="10.1" fill="#fff"/><circle cx="224.50" cy="838.5" r="5.5" fill="#2ca02c"/>
<circle cx="228.50" cy="838.5" r="10.1" fill="#fff"/><circle cx="228.50" cy="838.5" r="5.5" fill="#2ca02c"/>
<circle cx="232.50" cy="838.5" r="10.1" fill="#fff"/><circle cx="232.50" cy="838.5" r="5.5" fill="#2ca02c"/>
<circle cx="237.50" cy="838.5" r="10.1" fill="#fff"/><circle cx="237.50" cy="838.5" r="5.5" fill="#2ca02c"/>
<circle cx="241.50" cy="838.5" r="10.1" fill="#fff"/><circle cx="241.50" cy="838.5" r="5.5" fill="#2ca02c"/>
<circle cx="245.50" cy="838.5" r="10.1" fill="#fff"/><circle cx="245.50" cy="838.5" r="5.5" fill="#2ca02c"/>
<circle cx="250.50" cy="838.5" r="10.1" fill="#fff"/><circle cx="250.50" cy="838.5" r="5.5" fill="#2ca02c"/>
<circle cx="254.50" cy="838.5" r="10.1" fill="#fff"/><circle cx="254.50" cy="838.5" r="5.5" fill="#2ca02c"/>
<circle cx="258.50" cy="838.5" r="10.1" fill="#fff"/><circle cx="258.50" cy="838.5" r="5.5" fill="#2ca02c"/>
<circle cx="262.50" cy="838.5" r="10.1" fill="#fff"/><circle cx="262.50" cy="838.5" r="5.5" fill="#2ca02c"/>
<circle cx="267.50" cy="838.5" r="10.1" fill="#fff"/><circle cx="267.50" cy="838.5" r="5.5" fill="#2ca02c"/>
<circle cx="271.50" cy="838.5" r="10.1" fill="#fff"/><circle cx="271.50" cy="838.5" r="5.5" fill="#2ca02c"/>
<circle cx="275.50" cy="838.5" r="10.1" fill="#fff"/><circle cx="275.50" cy="838.5" r="5.5" fill="#2ca02c"/>
<circle cx="279.50" cy="838.5" r="10.1" fill="#fff"/><circle cx="279.50" cy="838.5" r="5.5" fill="#2ca02c"/>
<circle cx="284.50" cy="838.5" r="10.1" fill="#fff"/><circle cx="284.50" cy="838.5" r="5.5" fill="#2ca02c"/>
<circle cx="288.50" cy="838.5" r="10.1" fill="#fff"/><circle cx="288.50" cy="838.5" r="5.5" fill="#2ca02c"/>
<circle cx="292.50" cy="838.5" r="10.1" fill="#fff"/><circle cx="292.50" cy="838.5" r="5.5" fill="#2ca02c"/>
<circle cx="297.50" cy="838.5" r="10.1" fill="#fff"/><circle cx="297.50" cy="838.5" r="5.5" fill="#2ca02c"/>
<circle cx="301.50" cy="838.5" r="10.1" fill="#fff"/><circle cx="301.50" cy="838.5" r="5.5" fill="#2ca02c"/>
<circle cx="305.50" cy="838.5" r="10.1" fill="#fff"/><circle cx="305.50" cy="838.5" r="5.5" fill="#2ca02c"/>
<circle cx="309.50" cy="838.5" r="10.1" fill="#fff"/><circle cx="309.50" cy="838.5" r="5.5" fill="#2ca02c"/>
<circle cx="314.50" cy="838.5" r="10.1" fill="#fff"/><circle cx="314.50" cy="838.5" r="5.5" fill="#2ca02c"/>
<circle cx="318.50" cy="838.5" r="10.1" fill="#fff"/><circle cx="318.50" cy="838.5" r="5.5" fill="#2ca02c"/>
<circle cx="322.50" cy="838.5" r="10.1" fill="#fff"/><circle cx="322.50" cy="838.5" r="5.5" fill="#2ca02c"/>
<circle cx="327.50" cy="838.5" r="10.1" fill="#fff"/><circle cx="327.50" cy="838.5" r="5.5" fill="#2ca02c"/>
<circle cx="331.50" cy="838.5" r="10.1" fill="#fff"/><circle cx="331.50" cy="838.5" r="5.5" fill="#2ca02c"/>
<circle cx="335.50" cy="838.5" r="10.1" fill="#fff"/><circle cx="335.50" cy="838.5" r="5.5" fill="#2ca02c"/>
<circle cx="339.50" cy="838.5" r="10.1" fill="#fff"/><circle cx="339.50" cy="838.5" r="5.5" fill="#2ca02c"/>
<circle cx="344.50" cy="838.5" r="10.1" fill="#fff"/><circle cx="344.50" cy="838.5" r="5.5" fill="#2ca02c"/>
<circle cx="348.50" cy="838.5" r="10.1" fill="#fff"/><circle cx="348.50" cy="838.5" r="5.5" fill="#2ca02c"/>
<circle cx="352.50" cy="838.5" r="10.1" fill="#fff"/><circle cx="352.50" cy="838.5" r="5.5" fill="#2ca02c"/>
<circle cx="356.50" cy="838.5" r="10.1" fill="#fff"/><circle cx="356.50" cy="838.5" r="5.5" fill="#2ca02c"/>
<circle cx="361.50" cy="838.5" r="10.1" fill="#fff"/><circle cx="361.50" cy="838.5" r="5.5" fill="#2ca02c"/>
<circle cx="365.50" cy="838.5" r="10.1" fill="#fff"/><circle cx="365.50" cy="838.5" r="5.5" fill="#2ca02c"/>
<circle cx="369.50" cy="838.5" r="10.1" fill="#fff"/><circle cx="369.50" cy="838.5" r="5.5" fill="#2ca02c"/>
<circle cx="374.50" cy="838.5" r="10.1" fill="#fff"/><circle cx="374.50" cy="838.5" r="5.5" fill="#2ca02c"/>
<circle cx="378.50" cy="838.5" r="10.1" fill="#fff"/><circle cx="378.50" cy="838.5" r="5.5" fill="#2ca02c"/>
<circle cx="382.50" cy="838.5" r="10.1" fill="#fff"/><circle cx="382.50" cy="838.5" r="5.5" fill="#2ca02c"/>
<circle cx="386.50" cy="838.5" r="10.1" fill="#fff"/><circle cx="386.50" cy="838.5" r="5.5" fill="#2ca02c"/>
<circle cx="391.50" cy="838.5" r="10.1" fill="#fff"/><circle cx="391.50" cy="838.5" r="5.5" fill="#2ca02c"/>
<circle cx="395.50" cy="838.5" r="10.1" fill="#fff"/><circle cx="395.50" cy="838.5" r="5.5" fill="#2ca02c"/>
<circle cx="399.50" cy="838.5" r="10.1" fill="#fff"/><circle cx="399.50" cy="838.5" r="5.5" fill="#2ca02c"/>
<circle cx="404.50" cy="838.5" r="10.1" fill="#fff"/><circle cx="404.50" cy="838.5" r="5.5" fill="#2ca02c"/>
<circle cx="408.50" cy="838.5" r="10.1" fill="#fff"/><circle cx="408.50" cy="838.5" r="5.5" fill="#2ca02c"/>
<circle cx="412.50" cy="838.5" r="10.1" fill="#fff"/><circle cx="412.50" cy="838.5" r="5.5" fill="#2ca02c"/>
<circle cx="416.50" cy="838.5" r="10.1" fill="#fff"/><circle cx="416.50" cy="838.5" r="5.5" fill="#2ca02c"/>
<circle cx="421.50" cy="838.5" r="10.1" fill="#fff"/><circle cx="421.50" cy="838.5" r="5.5" fill="#2ca02c"/>
<circle cx="425.50" cy="838.5" r="10.1" fill="#fff"/><circle cx="425.50" cy="838.5" r="5.5" fill="#2ca02c"/>
<circle cx="429.50" cy="838.5" r="10.1" fill="#fff"/><circle cx="429.50" cy="838.5" r="5.5" fill="#2ca02c"/>
<circle cx="434.50" cy="838.5" r="10.1" fill="#fff"/><circle cx="434.50" cy="838.5" r="5.5" fill="#2ca02c"/>
<circle cx="438.50" cy="838.5" r="10.1" fill="#fff"/><circle cx="438.50" cy="838.5" r="5.5" fill="#2ca02c"/>
<circle cx="442.50" cy="838.5" r="10.1" fill="#fff"/><circle cx="442.50" cy="838.5" r="5.5" fill="#2ca02c"/>
<circle cx="446.50" cy="838.5" r="10.1" fill="#fff"/><circle cx="446.50" cy="838.5" r="5.5" fill="#2ca02c"/>
<circle cx="451.50" cy="838.5" r="10.1" fill="#fff"/><circle cx="451.50" cy="838.5" r="5.5" fill="#2ca02c"/>
<circle cx="455.50" cy="838.5" r="10.1" fill="#fff"/><circle cx="455.50" cy="838.5" r="5.5" fill="#2ca02c"/>
<circle cx="459.50" cy="838.5" r="10.1" fill="#fff"/><circle cx="459.50" cy="838.5" r="5.5" fill="#2ca02c"/>
<circle cx="464.50" cy="838.5" r="10.1" fill="#fff"/><circle cx="464.50" cy="838.5" r="5.5" fill="#2ca02c"/>
<circle cx="468.50" cy="838.5" r="10.1" fill="#fff"/><circle cx="468.50" cy="838.5" r="5.5" fill="#2ca02c"/>
<circle cx="472.50" cy="838.5" r="10.1" fill="#fff"/><circle cx="472.50" cy="838.5" r="5.5" fill="#2ca02c"/>
<circle cx="476.50" cy="838.5" r="10.1" fill="#fff"/><circle cx="476.50" cy="838.5" r="5.5" fill="#2ca02c"/>
<circle cx="481.50" cy="838.5" r="10.1" fill="#fff"/><circle cx="481.50" cy="838.5" r="5.5" fill="#2ca02c"/>
<circle cx="485.50" cy="838.5" r="10.1" fill="#fff"/><circle cx="485.50" cy="838.5" r="5.5" fill="#2ca02c"/>
<circle cx="489.50" cy="838.5" r="10.1" fill="#fff"/><circle cx="489.50" cy="838.5" r="5.5" fill="#2ca02c"/>
<circle cx="493.50" cy="838.5" r="10.1" fill="#fff"/><circle cx="493.50" cy="838.5" r="5.5" fill="#2ca02c"/>
<circle cx="498.50" cy="838.5" r="10.1" fill="#fff"/><circle cx="498.50" cy="838.5" r="5.5" fill="#2ca02c"/>
<circle cx="502.50" cy="838.5" r="10.1" fill="#fff"/><circle cx="502.50" cy="838.5" r="5.5" fill="#2ca02c"/>
<circle cx="506.50" cy="838.5" r="10.1" fill="#fff"/><circle cx="506.50" cy="838.5" r="5.5" fill="#2ca02c"/>
<circle cx="511.50" cy="838.5" r="10.1" fill="#fff"/><circle cx="511.50" cy="838.5" r="5.5" fill="#2ca02c"/>
<circle cx="515.50" cy="838.5" r="10.1" fill="#fff"/><circle cx="515.50" cy="838.5" r="5.5" fill="#2ca02c"/>
<circle cx="519.50" cy="838.5" r="10.1" fill="#fff"/><circle cx="519.50" cy="838.5" r="5.5" fill="#2ca02c"/>
<circle cx="523.50" cy="838.5" r="10.1" fill="#fff"/><circle cx="523.50" cy="838.5" r="5.5" fill="#2ca02c"/>
<circle cx="528.50" cy="838.5" r="10.1" fill="#fff"/><circle cx="528.50" cy="838.5" r="5.5" fill="#2ca02c"/>
<circle cx="532.50" cy="838.5" r="10.1" fill="#fff"/><circle cx="532.50" cy="838.5" r="5.5" fill="#2ca02c"/>
<circle cx="536.50" cy="838.5" r="10.1" fill="#fff"/><circle cx="536.50" cy="838.5" r="5.5" fill="#2ca02c"/>
<circle cx="541.50" cy="838.5" r="10.1" fill="#fff"/><circle cx="541.50" cy="838.5" r="5.5" fill="#2ca02c"/>
<circle cx="545.50" cy="838.5" r="10.1" fill="#fff"/><circle cx="545.50" cy="838.5" r="5.5" fill="#2ca02c"/>
<circle cx="549.50" cy="838.5" r="10.1" fill="#fff"/><circle cx="549.50" cy="838.5" r="5.5" fill="#2ca02c"/>
<circle cx="553.50" cy="838.5" r="10.1" fill="#fff"/><circle cx="553.50" cy="838.5" r="5.5" fill="#2ca02c"/>
<circle cx="558.50" cy="838.5" r="10.1" fill="#fff"/><circle cx="558.50" cy="838.5" r="5.5" fill="#2ca02c"/>
<circle cx="562.50" cy="838.5" r="10.1" fill="#fff"/><circle cx="562.50" cy="838.5" r="5.5" fill="#2ca02c"/>
<circle cx="566.50" cy="838.5" r="10.1" fill="#fff"/><circle cx="566.50" cy="838.5" r="5.5" fill="#2ca02c"/>
<circle cx="571.50" cy="838.5" r="10.1" fill="#fff"/><circle cx="571.50" cy="838.5" r="5.5" fill="#2ca02c"/>
<circle cx="575.50" cy="838.5" r="10.1" fill="#fff"/><circle cx="575.50" cy="838.5" r="5.5" fill="#2ca02c"/>
<circle cx="579.50" cy="838.5" r="10.1" fill="#fff"/><circle cx="579.50" cy="838.5" r="5.5" fill="#2ca02c"/>
<circle cx="583.50" cy="838.5" r="10.1" fill="#fff"/><circle cx="583.50" cy="838.5" r="5.5" fill="#2ca02c"/>
<circle cx="588.50" cy="838.5" r="10.1" fill="#fff"/><circle cx="588.50" cy="838.5" r="5.5" fill="#2ca02c"/>
<circle cx="592.50" cy="838.5" r="10.1" fill="#fff"/><circle cx="592.50" cy="838.5" r="5.5" fill="#2ca02c"/>
<circle cx="596.50" cy="838.5" r="10.1" fill="#fff"/><circle cx="596.50" cy="838.5" r="5.5" fill="#2ca02c"/>
<circle cx="600.50" cy="838.5" r="10.1" fill="#fff"/><circle cx="600.50" cy="838.5" r="5.5" fill="#2ca02c"/>
<circle cx="605.50" cy="838.5" r="10.1" fill="#fff"/><circle cx="605.50" cy="838.5" r="5.5" fill="#2ca02c"/>
<circle cx="609.50" cy="838.5" r="10.1" fill="#fff"/><circle cx="609.50" cy="838.5" r="5.5" fill="#2ca02c"/>
<circle cx="613.50" cy="838.5" r="10.1" fill="#fff"/><circle cx="613.50" cy="838.5" r="5.5" fill="#2ca02c"/>
<circle cx="618.50" cy="838.5" r="10.1" fill="#fff"/><circle cx="618.50" cy="838.5" r="5.5" fill="#2ca02c"/>
<circle cx="622.50" cy="838.5" r="10.1" fill="#fff"/><circle cx="622.50" cy="838.5" r="5.5" fill="#2ca02c"/>
<circle cx="626.50" cy="838.5" r="10.1" fill="#fff"/><circle cx="626.50" cy="838.5" r="5.5" fill="#2ca02c"/>
<circle cx="630.50" cy="838.5" r="10.1" fill="#fff"/><circle cx="630.50" cy="838.5" r="5.5" fill="#2ca02c"/>
<circle cx="635.50" cy="838.5" r="10.1" fill="#fff"/><circle cx="635.50" cy="838.5" r="5.5" fill="#2ca02c"/>
<circle cx="639.50" cy="838.5" r="10.1" fill="#fff"/><circle cx="639.50" cy="838.5" r="5.5" fill="#2ca02c"/>
<circle cx="643.50" cy="838.5" r="10.1" fill="#fff"/><circle cx="643.50" cy="838.5" r="5.5" fill="#2ca02c"/>
<circle cx="648.50" cy="838.5" r="10.1" fill="#fff"/><circle cx="648.50" cy="838.5" r="5.5" fill="#2ca02c"/>
<circle cx="652.50" cy="838.5" r="10.1" fill="#fff"/><circle cx="652.50" cy="838.5" r="5.5" fill="#2ca02c"/>
<circle cx="656.50" cy="838.5" r="10.1" fill="#fff"/><circle cx="656.50" cy="838.5" r="5.5" fill="#2ca02c"/>
<circle cx="660.50" cy="838.5" r="10.1" fill="#fff"/><circle cx="660.50" cy="838.5" r="5.5" fill="#2ca02c"/>
<circle cx="665.50" cy="838.5" r="10.1" fill="#fff"/><circle cx="665.50" cy="838.5" r="5.5" fill="#2ca02c"/>
<circle cx="669.50" cy="838.5" r="10.1" fill="#fff"/><circle cx="669.50" cy="838.5" r="5.5" fill="#2ca02c"/>
<circle cx="673.50" cy="838.5" r="10.1" fill="#fff"/><circle cx="673.50" cy="838.5" r="5.5" fill="#2ca02c"/>
<circle cx="678.50" cy="838.5" r="10.1" fill="#fff"/><circle cx="678.50" cy="838.5" r="5.5" fill="#2ca02c"/>
<circle cx="682.50" cy="838.5" r="10.1" fill="#fff"/><circle cx="682.50" cy="838.5" r="5.5" fill="#2ca02c"/>
<circle cx="686.50" cy="838.5" r="10.1" fill="#fff"/><circle cx="686.50" cy="838.5" r="5.5" fill="#2ca02c"/>
<circle cx="690.50" cy="838.5" r="10.1" fill="#fff"/><circle cx="690.50" cy="838.5" r="5.5" fill="#2ca02c"/>
<circle cx="695.50" cy="838.5" r="10.1" fill="#fff"/><circle cx="695.50" cy="838.5" r="5.5" fill="#2ca02c"/>
<circle cx="699.50" cy="838.5" r="10.1" fill="#fff"/><circle cx="699.50" cy="838.5" r="5.5" fill="#2ca02c"/>
<circle cx="703.50" cy="838.5" r="10.1" fill="#fff"/><circle cx="703.50" cy="838.5" r="5.5" fill="#2ca02c"/>
<circle cx="707.50" cy="838.5" r="10.1" fill="#fff"/><circle cx="707.50" cy="838.5" r="5.5" fill="#2ca02c"/>
<circle cx="712.50" cy="838.5" r="10.1" fill="#fff"/><circle cx="712.50" cy="838.5" r="5.5" fill="#2ca02c"/>
<circle cx="716.50" cy="838.5" r="10.1" fill="#fff"/><circle cx="716.50" cy="838.5" r="5.5" fill="#2ca02c"/>
<circle cx="720.50" cy="838.5" r="10.1" fill="#fff"/><circle cx="720.50" cy="838.5" r="5.5" fill="#2ca02c"/>
<circle cx="725.50" cy="838.5" r="10.1" fill="#fff"/><circle cx="725.50" cy="838.5" r="5.5" fill="#2ca02c"/>
<circle cx="729.50" cy="838.5" r="10.1" fill="#fff"/><circle cx="729.50" cy="838.5" r="5.5" fill="#2ca02c"/>
<circle cx="733.50" cy="838.5" r="10.1" fill="#fff"/><circle cx="733.50" cy="838.5" r="5.5" fill="#2ca02c"/>
<circle cx="737.50" cy="838.5" r="10.1" fill="#fff"/><circle cx="737.50" cy="838.5" r="5.5" fill="#2ca02c"/>
<circle cx="742.50" cy="838.5" r="10.1" fill="#fff"/><circle cx="742.50" cy="838.5" r="5.5" fill="#2ca02c"/>
<circle cx="746.50" cy="838.5" r="10.1" fill="#fff"/><circle cx="746.50" cy="838.5" r="5.5" fill="#2ca02c"/>
<circle cx="750.50" cy="838.5" r="10.1" fill="#fff"/><circle cx="750.50" cy="838.5" r="5.5" fill="#2ca02c"/>
<circle cx="755.50" cy="838.5" r="10.1" fill="#fff"/><circle cx="755.50" cy="838.5" r="5.5" fill="#2ca02c"/>
<circle cx="759.50" cy="838.5" r="10.1" fill="#fff"/><circle cx="759.50" cy="838.5" r="5.5" fill="#2ca02c"/>
<circle cx="763.50" cy="838.5" r="10.1" fill="#fff"/><circle cx="763.50" cy="838.5" r="5.5" fill="#2ca02c"/>
<circle cx="767.50" cy="838.5" r="10.1" fill="#fff"/><circle cx="767.50" cy="838.5" r="5.5" fill="#2ca02c"/>
<circle cx="772.50" cy="838.5" r="10.1" fill="#fff"/><circle cx="772.50" cy="838.5" r="5.5" fill="#2ca02c"/>
<circle cx="776.50" cy="838.5" r="10.1" fill="#fff"/><circle cx="776.50" cy="838.5" r="5.5" fill="#2ca02c"/>
<circle cx="780.50" cy="838.5" r="10.1" fill="#fff"/><circle cx="780.50" cy="838.5" r="5.5" fill="#2ca02c"/>
<circle cx="785.50" cy="838.5" r="10.1" fill="#fff"/><circle cx="785.50" cy="838.5" r="5.5" fill="#2ca02c"/>
<circle cx="789.50" cy="838.5" r="10.1" fill="#fff"/><circle cx="789.50" cy="838.5" r="5.5" fill="#2ca02c"/>
<circle cx="793.50" cy="838.5" r="10.1" fill="#fff"/><circle cx="793.50" cy="838.5" r="5.5" fill="#2ca02c"/>
<circle cx="797.50" cy="838.5" r="10.1" fill="#fff"/><circle cx="797.50" cy="838.5" r="5.5" fill="#2ca02c"/>
<circle cx="802.50" cy="838.5" r="10.1" fill="#fff"/><circle cx="802.50" cy="838.5" r="5.5" fill="#2ca02c"/>
<circle cx="806.50" cy="838.5" r="10.1" fill="#fff"/><circle cx="806.50" cy="838.5" r="5.5" fill="#2ca02c"/>
<circle cx="810.50" cy="838.5" r="10.1" fill="#fff"/><circle cx="810.50" cy="838.5" r="5.5" fill="#2ca02c"/>
<circle cx="814.50" cy="838.5" r="10.1" fill="#fff"/><circle cx="814.50" cy="838.5" r="5.5" fill="#2ca02c"/>
<circle cx="819.50" cy="838.5" r="10.1" fill="#fff"/><circle cx="819.50" cy="838.5" r="5.5" fill="#2ca02c"/>
<circle cx="823.50" cy="838.5" r="10.1" fill="#fff"/><circle cx="823.50" cy="838.5" r="5.5" fill="#2ca02c"/>
<circle cx="827.50" cy="838.5" r="10.1" fill="#fff"/><circle cx="827.50" cy="838.5" r="5.5" fill="#2ca02c"/>
<circle cx="832.50" cy="838.5" r="10.1" fill="#fff"/><circle cx="832.50" cy="838.5" r="5.5" fill="#2ca02c"/>
<circle cx="836.50" cy="838.5" r="10.1" fill="#fff"/><circle cx="836.50" cy="838.5" r="5.5" fill="#2ca02c"/>
<circle cx="840.50" cy="838.5" r="10.1" fill="#fff"/><circle cx="840.50" cy="838.5" r="5.5" fill="#2ca02c"/>
<circle cx="844.50" cy="838.5" r="10.1" fill="#fff"/><circle cx="844.50" cy="838.5" r="5.5" fill="#2ca02c"/>
<circle cx="849.50" cy="838.5" r="10.1" fill="#fff"/><circle cx="849.50" cy="838.5" r="5.5" fill="#2ca02c"/>
<circle cx="853.50" cy="838.5" r="10.1" fill="#fff"/><circle cx="853.50" cy="838.5" r="5.5" fill="#2ca02c"/>
<circle cx="857.50" cy="838.5" r="10.1" fill="#fff"/><circle cx="857.50" cy="838.5" r="5.5" fill="#2ca02c"/>
<circle cx="862.50" cy="838.5" r="10.1" fill="#fff"/><circle cx="862.50" cy="838.5" r="5.5" fill="#2ca02c"/>
<circle cx="866.50" cy="838.5" r="10.1" fill="#fff"/><circle cx="866.50" cy="838.5" r="5.5" fill="#2ca02c"/>
<circle cx="870.50" cy="838.5" r="10.1" fill="#fff"/><circle cx="870.50" cy="838.5" r="5.5" fill="#2ca02c"/>
<circle cx="874.50" cy="838.5" r="10.1" fill="#fff"/><circle cx="874.50" cy="838.5" r="5.5" fill="#2ca02c"/>
<circle cx="879.50" cy="838.5" r="10.1" fill="#fff"/><circle cx="879.50" cy="838.5" r="5.5" fill="#2ca02c"/>
<circle cx="883.50" cy="838.5" r="10.1" fill="#fff"/><circle cx="883.50" cy="838.5" r="5.5" fill="#2ca02c"/>
<circle cx="887.50" cy="838.5" r="10.1" fill="#fff"/><circle cx="887.50" cy="838.5" r="5.5" fill="#2ca02c"/>
<circle cx="892.50" cy="838.5" r="10.1" fill="#fff"/><circle cx="892.50" cy="838.5" r="5.5" fill="#2ca02c"/>
<circle cx="896.50" cy="838.5" r="10.1" fill="#fff"/><circle cx="896.50" cy="838.5" r="5.5" fill="#2ca02c"/>
<circle cx="900.50" cy="838.5" r="10.1" fill="#fff"/><circle cx="900.50" cy="838.5" r="5.5" fill="#2ca02c"/>
<circle cx="904.50" cy="838.5" r="10.1" fill="#fff"/><circle cx="904.50" cy="838.5" r="5.5" fill="#2ca02c"/>
<circle cx="909.50" cy="838.5" r="10.1" fill="#fff"/><circle cx="909.50" cy="838.5" r="5.5" fill="#2ca02c"/>
<circle cx="913.50" cy="838.5" r="10.1" fill="#fff"/><circle cx="913.50" cy="838.5" r="5.5" fill="#2ca02c"/>
<circle cx="917.50" cy="838.5" r="10.1" fill="#fff"/><circle cx="917.50" cy="838.5" r="5.5" fill="#2ca02c"/>
<circle cx="921.50" cy="838.5" r="10.1" fill="#fff"/><circle cx="921.50" cy="838.5" r="5.5" fill="#2ca02c"/>
<circle cx="926.50" cy="838.5" r="10.1" fill="#fff"/><circle cx="926.50" cy="838.5" r="5.5" fill="#2ca02c"/>
<circle cx="930.50" cy="838.5" r="10.1" fill="#fff"/><circle cx="930.50" cy="838.5" r="5.5" fill="#2ca02c"/>
<circle cx="934.50" cy="838.5" r="10.1" fill="#fff"/><circle cx="934.50" cy="838.5" r="5.5" fill="#2ca02c"/>
<circle cx="939.50" cy="838.5" r="10.1" fill="#fff"/><circle cx="939.50" cy="838.5" r="5.5" fill="#2ca02c"/>
<circle cx="943.50" cy="838.5" r="10.1" fill="#fff"/><circle cx="943.50" cy="838.5" r="5.5" fill="#2ca02c"/>
<circle cx="947.50" cy="838.5" r="10.1" fill="#fff"/><circle cx="947.50" cy="838.5" r="5.5" fill="#2ca02c"/>
<circle cx="951.50" cy="838.5" r="10.1" fill="#fff"/><circle cx="951.50" cy="838.5" r="5.5" fill="#2ca02c"/>
<circle cx="956.50" cy="838.5" r="10.1" fill="#fff"/><circle cx="956.50" cy="838.5" r="5.5" fill="#2ca02c"/>
</g>
<path d="M95.5 57.5V838.5H1165.5" fill="none" stroke="#000" stroke-width="1" stroke-linecap="square"/>
<text x="1086.6" y="79.3" text-anchor="end" style="white-space:pre">TCP</text>
<path d="M1097.5 74.5H1145.5" stroke="#0060ad" stroke-width="2.0" fill="none"/>
<circle cx="1121.5" cy="74.5" r="10.1" fill="#fff"/><circle cx="1121.5" cy="74.5" r="5.5" fill="#0060ad"/>
<text x="1086.6" y="98.4" text-anchor="end" style="white-space:pre">UDP</text>
<path d="M1097.5 93.5H1145.5" stroke="#ff7f0e" stroke-width="2.0" fill="none"/>
<circle cx="1121.5" cy="93.5" r="10.1" fill="#fff"/><circle cx="1121.5" cy="93.5" r="5.5" fill="#ff7f0e"/>
<text x="1086.6" y="117.5" text-anchor="end" style="white-space:pre">IP (!TCP  !UDP)</text>
<path d="M1097.5 112.5H1145.5" stroke="#2ca02c" stroke-width="2.0" fill="none"/>
<circle cx="1121.5" cy="112.5" r="10.1" fill="#fff"/><circle cx="1121.5" cy="112.5" r="5.5" fill="#2ca02c"/>
<text x="86.5" y="845" text-anchor="end" letter-spacing="0.25">0</text>
<text x="86.5" y="714" text-anchor="end" letter-spacing="0.25">500</text>
<text x="86.5" y="584" text-anchor="end" letter-spacing="0.25">1000</text>
<text x="86.5" y="454" text-anchor="end" letter-spacing="0.25">1500</text>
<text x="86.5" y="324" text-anchor="end" letter-spacing="0.25">2000</text>
<text x="86.5" y="194" text-anchor="end" letter-spacing="0.25">2500</text>
<text x="86.5" y="63" text-anchor="end" letter-spacing="0.25">3000</text>
<text x="98.05" y="864" text-anchor="middle" letter-spacing="0">0</text>
<text x="312.97" y="864" text-anchor="middle" letter-spacing="0.7">50</text>
<text x="526.70" y="864" text-anchor="middle" letter-spacing="0.1">100</text>
<text x="740.70" y="864" text-anchor="middle" letter-spacing="0.1">150</text>
<text x="954.60" y="864" text-anchor="middle" letter-spacing="0.1">200</text>
<text x="1168.60" y="864" text-anchor="middle" letter-spacing="0.1">250</text>
<text x="630.7" y="892" text-anchor="middle">Time (s)</text>
<text transform="translate(23.5 448.4) rotate(-90)" text-anchor="middle">Packets</text>
</svg></body></html>
